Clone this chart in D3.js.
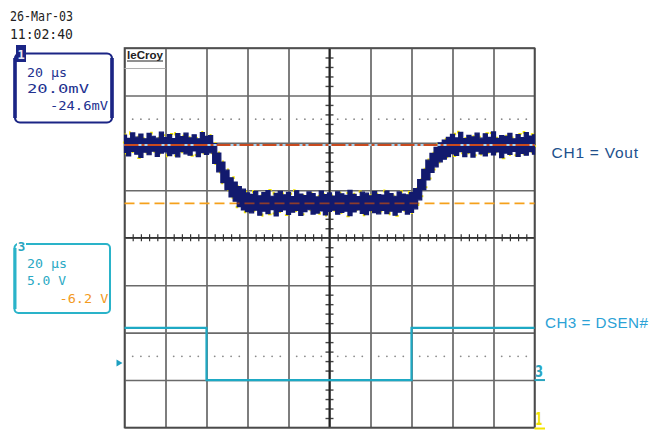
<!DOCTYPE html>
<html>
<head>
<meta charset="utf-8">
<script src="https://cdn.jsdelivr.net/npm/d3@7"></script>
<style>
  body { margin: 0; background: #fff; }
  svg { display: block; }
</style>
</head>
<body>
<svg id="scope" width="650" height="430"></svg>
<script>
// ---- screen grid: 10 x 20 µs horizontally, 8 divisions vertically ----
const gridTimes = [-100, -80, -60, -40, -20, 0, 20, 40, 60, 80, 100];
const gridDivs = [-4, -3, -2, -1, 0, 1, 2, 3, 4];
const dotRowDivs = [2.5, -2.5];

// ---- CH1 (Vout), 20 mV/div, sampled every 2 µs: envelope of the noisy trace (mV) ----
const ch1Start = -100, ch1Step = 2;
const ch1Upper = [
  4.2, 2.8, 5.1, 3.3, 4.6, 2.6, 4.9, 3.7, 2.9, 5.4, 3.1, 4.4, 2.7, 4.8, 3.5, 5.0, 3.0, 4.3, 2.6, 5.2, 3.6, 4.0,
  0.6, -3.4, -7.2, -10.6, -13.8, -15.6, -17.5, -18.6, -20.2,
  -20.8, -19.6, -21.4, -20.1, -19.2, -21.6, -20.4, -19.5, -21.0, -20.0,
  -21.8, -19.3, -20.7, -21.3, -19.8, -20.5, -21.9, -19.4, -20.9, -20.2,
  -21.5, -19.7, -20.6, -21.2, -19.1, -20.8, -21.7, -19.9, -20.3, -21.4,
  -19.6, -20.9, -21.1, -19.4, -20.5, -21.6, -19.8, -20.7, -21.0, -20.1,
  -18.4, -14.6, -10.3, -6.4, -3.5, -1.0, 0.9, 2.1, 3.2,
  4.5, 3.0, 5.3, 2.7, 4.1, 3.4, 5.0, 2.9, 4.7, 3.2, 5.5, 2.8, 4.0, 3.6, 4.9, 2.6, 4.4, 3.1, 5.2, 3.8, 4.3
];
const ch1Lower = [
  -3.1, -4.6, -2.7, -3.9, -5.2, -3.0, -4.1, -2.6, -4.8, -3.4, -2.9, -4.5, -3.6, -5.0, -2.8, -3.7, -4.3, -2.5, -4.9, -3.2, -4.0, -3.3,
  -7.8, -11.3, -15.9, -18.8, -21.9, -23.7, -26.0, -27.4, -28.1,
  -28.6, -27.5, -29.6, -27.9, -28.9, -27.2, -29.9, -28.0, -27.4, -29.3,
  -28.3, -27.6, -29.7, -28.1, -27.3, -29.1, -28.7, -27.8, -29.5, -28.0,
  -27.5, -29.2, -28.4, -27.9, -29.8, -28.2, -27.4, -28.8, -29.4, -27.7,
  -28.5, -29.0, -27.6, -28.9, -27.9, -29.6, -28.3, -27.5, -29.1, -28.4,
  -26.9, -23.1, -18.8, -14.7, -11.6, -9.2, -7.1, -6.0, -4.9,
  -3.6, -4.4, -2.8, -4.9, -3.2, -5.1, -2.6, -3.8, -4.6, -3.0, -4.2, -2.9, -5.3, -3.4, -4.0, -2.7, -4.8, -3.5, -4.3, -2.8, -3.9
];
// reference levels: nominal Vout and the offset level
const ch1RefLevels = [0, -24.6];

// ---- CH3 (DSEN#), 5 V/div ----
const ch3Time = [-100, -60, -60, 40, 40, 100];
const ch3Volts = [5.5, 5.5, 0, 0, 5.5, 5.5];

// ---- text ----
const stampLines = ["26-Mar-03", "11:02:40"];
const ch1Settings = ["20 µs", "20.0mV", "-24.6mV"];
const ch3Settings = ["20 µs", "5.0 V", "-6.2 V"];
const traceLabels = ["CH1 = Vout", "CH3 = DSEN#"];

// ---- colours ----
const NAVY = "#121a6e", CYAN = "#1ea9c4", ORANGE = "#f5a11c", RED = "#c94a1f", YELLOW = "#f2e400";

const svg = d3.select("#scope");
const plotL = 124.5, plotR = 534.5, plotT = 48, plotB = 427.5;

const x = d3.scaleLinear().domain([-100, 100]).range([plotL, plotR]);
const div = d3.scaleLinear().domain([-4, 4]).range([plotB, plotT]);
// 0 mV sits 1.955 div above centre
const ch1Y = d3.scaleLinear().domain([-119.1, 40.9]).range([plotB, plotT]);
// 0 V sits on the -3 div line
const ch3Y = d3.scaleLinear().domain([-5, 35]).range([plotB, plotT]);

// ---- graticule ----
const grid = svg.append("g");
grid.append("g")
  .attr("transform", `translate(0,${plotB})`)
  .call(d3.axisBottom(x).tickValues(gridTimes).tickSize(-(plotB - plotT)).tickFormat(""))
  .call(g => g.select(".domain").remove())
  .call(g => g.selectAll("line").attr("stroke", "#5e5e5e").attr("stroke-width", 1.6));
grid.append("g")
  .attr("transform", `translate(${plotL},0)`)
  .call(d3.axisLeft(div).tickValues(gridDivs).tickSize(-(plotR - plotL)).tickFormat(""))
  .call(g => g.select(".domain").remove())
  .call(g => g.selectAll("line").attr("stroke", "#6a6a6a").attr("stroke-width", 1.6));

// centre axes with 0.2 div minor ticks
const minorTimes = d3.range(-96, 100, 4).filter(t => t % 20 !== 0);
const minorDivs = d3.range(-3.8, 4, 0.2).filter(d => Math.abs(d - Math.round(d)) > 1e-6);
grid.append("g")
  .attr("transform", `translate(0,${div(0) - 3.5})`)
  .call(d3.axisBottom(x).tickValues(minorTimes).tickSize(7).tickFormat(""))
  .call(g => g.select(".domain").remove())
  .call(g => g.selectAll("line").attr("stroke", "#333").attr("stroke-width", 1.2));
grid.append("g")
  .attr("transform", `translate(${x(0) + 4},0)`)
  .call(d3.axisLeft(div).tickValues(minorDivs).tickSize(8).tickFormat(""))
  .call(g => g.select(".domain").remove())
  .call(g => g.selectAll("line").attr("stroke", "#444").attr("stroke-width", 1.4));
grid.append("line")
  .attr("x1", x(0)).attr("x2", x(0)).attr("y1", plotT).attr("y2", plotB)
  .attr("stroke", "#222").attr("stroke-width", 2);
grid.append("line")
  .attr("x1", plotL).attr("x2", plotR).attr("y1", div(0)).attr("y2", div(0))
  .attr("stroke", "#333").attr("stroke-width", 1.3);

// dotted marker rows
const dotTimes = d3.range(-96, 100, 4).filter(t => t % 20 !== 0);
dotRowDivs.forEach(r => {
  grid.append("g").selectAll("circle").data(dotTimes).join("circle")
    .attr("cx", d => x(d)).attr("cy", div(r)).attr("r", 0.9).attr("fill", "#8a8a8a");
});

// frame
grid.append("rect")
  .attr("x", plotL).attr("y", plotT).attr("width", plotR - plotL).attr("height", plotB - plotT)
  .attr("fill", "none").attr("stroke", "#4a4a4a").attr("stroke-width", 1.6);

// logo
grid.append("text").text("leCroy")
  .attr("x", 127).attr("y", 58.5)
  .attr("font-family", "Liberation Sans, Arial, sans-serif").attr("font-size", 10).attr("font-weight", "bold")
  .attr("fill", "#222").attr("textLength", 36).attr("lengthAdjust", "spacingAndGlyphs");
grid.append("line").attr("x1", 127).attr("x2", 163).attr("y1", 61).attr("y2", 61)
  .attr("stroke", "#222").attr("stroke-width", 1);
grid.append("line").attr("x1", plotL).attr("x2", x(-80)).attr("y1", 68.5).attr("y2", 68.5)
  .attr("stroke", "#b0b0b0").attr("stroke-width", 1.2);

// ---- CH1 trace ----
const ch1Data = ch1Upper.map((u, i) => ({ t: ch1Start + i * ch1Step, hi: u, lo: ch1Lower[i] }));
const band = d3.area()
  .curve(d3.curveStep)
  .x(d => x(d.t))
  .y0(d => ch1Y(d.lo))
  .y1(d => ch1Y(d.hi));

// offset level under the trace
svg.append("line")
  .attr("x1", plotL).attr("x2", plotR)
  .attr("y1", ch1Y(ch1RefLevels[1])).attr("y2", ch1Y(ch1RefLevels[1]))
  .attr("stroke", ORANGE).attr("stroke-width", 1.8).attr("stroke-dasharray", "10 5");

// persistence specks around the trace
svg.append("path").datum(ch1Data)
  .attr("d", band)
  .attr("fill", "none").attr("stroke", YELLOW).attr("stroke-width", 3.2)
  .attr("stroke-dasharray", "2 11");
svg.append("path").datum(ch1Data)
  .attr("d", band)
  .attr("fill", NAVY).attr("stroke", NAVY).attr("stroke-width", 1.2).attr("stroke-linejoin", "miter");

// offset level seen through the trace
svg.append("clipPath").attr("id", "bandClip")
  .append("path").datum(ch1Data).attr("d", band);
svg.append("line")
  .attr("clip-path", "url(#bandClip)")
  .attr("x1", plotL).attr("x2", plotR)
  .attr("y1", ch1Y(ch1RefLevels[1])).attr("y2", ch1Y(ch1RefLevels[1]))
  .attr("stroke", "#8c3c2c").attr("stroke-width", 1.8).attr("stroke-dasharray", "10 5");

// nominal level, dash-dot over light blue
svg.append("line")
  .attr("x1", plotL).attr("x2", plotR)
  .attr("y1", ch1Y(ch1RefLevels[0])).attr("y2", ch1Y(ch1RefLevels[0]))
  .attr("stroke", "#a8d2ee").attr("stroke-width", 2);
svg.append("line")
  .attr("x1", plotL).attr("x2", plotR)
  .attr("y1", ch1Y(ch1RefLevels[0])).attr("y2", ch1Y(ch1RefLevels[0]))
  .attr("stroke", RED).attr("stroke-width", 2).attr("stroke-dasharray", "14 3 3 3");

// ---- CH3 trace ----
const ch3Line = d3.line().x((d, i) => x(ch3Time[i])).y(d => ch3Y(d));
svg.append("path").datum(ch3Volts)
  .attr("d", ch3Line)
  .attr("fill", "none").attr("stroke", CYAN).attr("stroke-width", 2.2);

// ---- time stamp ----
const mono = "DejaVu Sans Mono, Liberation Mono, monospace";
stampLines.forEach((s, i) => {
  svg.append("text").text(s)
    .attr("transform", `translate(10,${[20.5, 39][i]}) scale(1,1.25)`)
    .attr("font-family", mono).attr("font-size", 11.5).attr("fill", "#222")
    .attr("textLength", 63).attr("lengthAdjust", "spacingAndGlyphs");
});

// ---- CH1 settings box ----
const b1 = svg.append("g");
b1.append("rect").attr("x", 15).attr("y", 53.5).attr("width", 97).attr("height", 69).attr("rx", 5)
  .attr("fill", "none").attr("stroke", "#1b2585").attr("stroke-width", 2.2);
[15, 112].forEach(sx => b1.append("line").attr("x1", sx).attr("x2", sx).attr("y1", 58).attr("y2", 118)
  .attr("stroke", "#1b2585").attr("stroke-width", 3.6));
b1.append("rect").attr("x", 16).attr("y", 45).attr("width", 10).attr("height", 17).attr("fill", "#1b2585");
b1.append("text").text("1").attr("x", 21).attr("y", 58.5).attr("text-anchor", "middle")
  .attr("font-family", mono).attr("font-size", 12).attr("font-weight", "bold").attr("fill", "#e6e8f2");
[[27, 77.3, "start", 40], [27, 93, "start", 62], [108, 110, "end", 58]].forEach(([tx, ty, anchor, len], i) => {
  b1.append("text").text(ch1Settings[i])
    .attr("x", tx).attr("y", ty).attr("text-anchor", anchor)
    .attr("font-family", mono).attr("font-size", 12.5).attr("fill", "#22318f")
    .attr("textLength", len).attr("lengthAdjust", "spacingAndGlyphs");
});

// ---- CH3 settings box ----
const b3 = svg.append("g");
b3.append("rect").attr("x", 14.5).attr("y", 244).attr("width", 95.5).attr("height", 69).attr("rx", 4)
  .attr("fill", "none").attr("stroke", "#2ab3c9").attr("stroke-width", 2);
b3.append("line").attr("x1", 15).attr("x2", 15).attr("y1", 248).attr("y2", 309)
  .attr("stroke", "#2ab3c9").attr("stroke-width", 3);
b3.append("rect").attr("x", 17).attr("y", 237).attr("width", 9).attr("height", 14).attr("fill", "#fff");
b3.append("text").text("3").attr("x", 21.5).attr("y", 250.5).attr("text-anchor", "middle")
  .attr("font-family", mono).attr("font-size", 12.5).attr("font-weight", "bold").attr("fill", "#2aa5bf");
[[27, 267.5, "start", 40, "#2aa9c4"], [27, 285, "start", 39, "#2aa9c4"], [108.5, 302.5, "end", 49, "#f39a1e"]]
  .forEach(([tx, ty, anchor, len, col], i) => {
    b3.append("text").text(ch3Settings[i])
      .attr("x", tx).attr("y", ty).attr("text-anchor", anchor)
      .attr("font-family", mono).attr("font-size", 12.5).attr("fill", col)
      .attr("textLength", len).attr("lengthAdjust", "spacingAndGlyphs");
  });

// ---- trace labels ----
const sans = "Liberation Sans, Arial, sans-serif";
svg.append("text").text(traceLabels[0])
  .attr("x", 551.5).attr("y", 157.5).attr("font-family", sans).attr("font-size", 15.5)
  .attr("fill", "#21508c").attr("textLength", 86.5).attr("lengthAdjust", "spacing");
svg.append("text").text(traceLabels[1])
  .attr("x", 545).attr("y", 328.3).attr("font-family", sans).attr("font-size", 15.2)
  .attr("fill", "#2ba2d6").attr("textLength", 103).attr("lengthAdjust", "spacing");

// ---- channel ground markers and trigger arrow ----
svg.append("text").text("3").attr("x", 535).attr("y", 377)
  .attr("font-family", "DejaVu Sans, sans-serif").attr("font-size", 16).attr("font-weight", "bold")
  .attr("fill", "#2aa5bf").attr("textLength", 8).attr("lengthAdjust", "spacingAndGlyphs");
svg.append("line").attr("x1", plotR).attr("x2", 545).attr("y1", ch3Y(0)).attr("y2", ch3Y(0))
  .attr("stroke", "#2aa5bf").attr("stroke-width", 2);
svg.append("text").text("1").attr("x", 535.5).attr("y", 425)
  .attr("font-family", "DejaVu Sans, sans-serif").attr("font-size", 17).attr("font-weight", "bold")
  .attr("fill", YELLOW).attr("textLength", 7).attr("lengthAdjust", "spacingAndGlyphs");
svg.append("line").attr("x1", plotR).attr("x2", 545).attr("y1", 428.5).attr("y2", 428.5)
  .attr("stroke", YELLOW).attr("stroke-width", 2);
svg.append("path")
  .attr("d", d3.line()([[116.5, 359.5], [122.5, 363], [116.5, 366.5]]) + "Z")
  .attr("fill", "#1d9fc0");
</script>
</body>
</html>
